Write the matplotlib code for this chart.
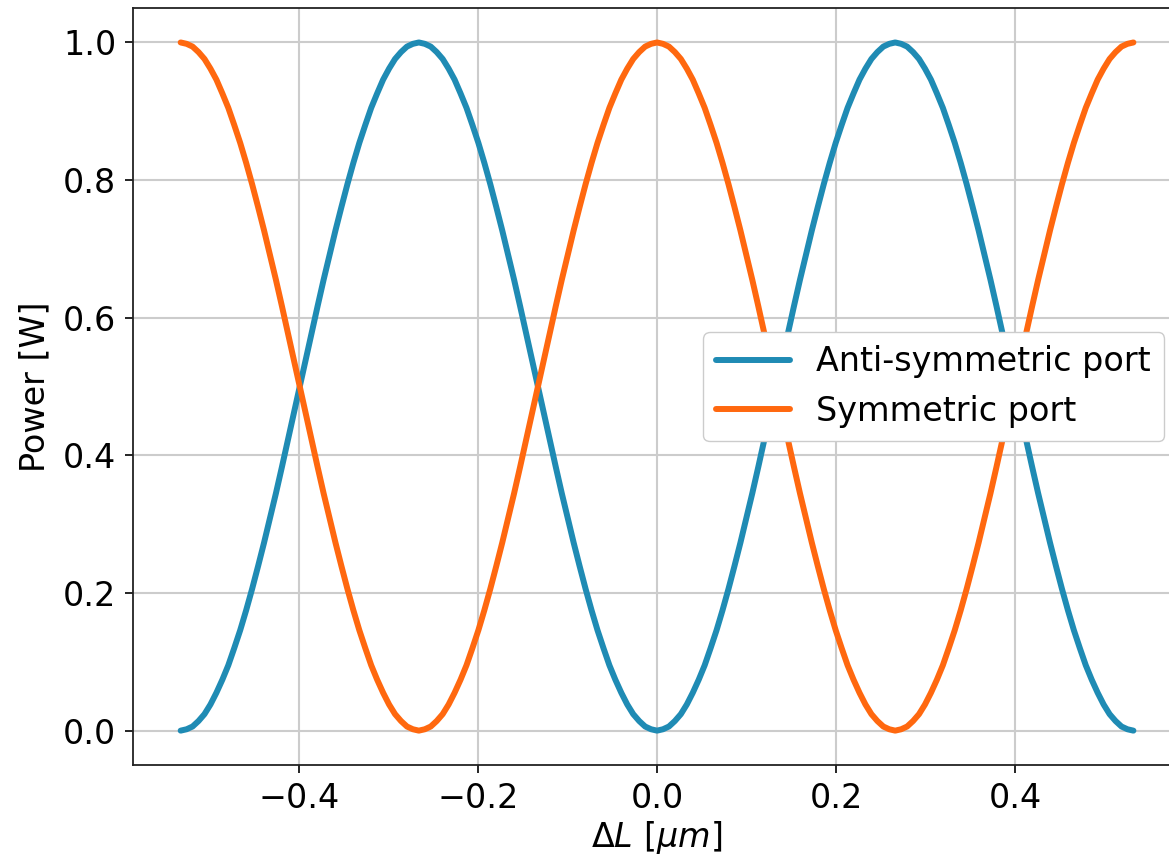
import matplotlib
matplotlib.use("Agg")
import matplotlib.pyplot as plt

# Path-length difference [um] (lambda/160 steps)
delta_l = [-0.532, -0.52535, -0.5187, -0.51205, -0.5054, -0.49875, -0.4921, -0.48545, -0.4788, -0.47215,
           -0.4655, -0.45885, -0.4522, -0.44555, -0.4389, -0.43225, -0.4256, -0.41895, -0.4123, -0.40565,
           -0.399, -0.39235, -0.3857, -0.37905, -0.3724, -0.36575, -0.3591, -0.35245, -0.3458, -0.33915,
           -0.3325, -0.32585, -0.3192, -0.31255, -0.3059, -0.29925, -0.2926, -0.28595, -0.2793, -0.27265,
           -0.266, -0.25935, -0.2527, -0.24605, -0.2394, -0.23275, -0.2261, -0.21945, -0.2128, -0.20615,
           -0.1995, -0.19285, -0.1862, -0.17955, -0.1729, -0.16625, -0.1596, -0.15295, -0.1463, -0.13965,
           -0.133, -0.12635, -0.1197, -0.11305, -0.1064, -0.09975, -0.0931, -0.08645, -0.0798, -0.07315,
           -0.0665, -0.05985, -0.0532, -0.04655, -0.0399, -0.03325, -0.0266, -0.01995, -0.0133, -0.00665,
           0.0,
           0.00665, 0.0133, 0.01995, 0.0266, 0.03325, 0.0399, 0.04655, 0.0532, 0.05985, 0.0665,
           0.07315, 0.0798, 0.08645, 0.0931, 0.09975, 0.1064, 0.11305, 0.1197, 0.12635, 0.133,
           0.13965, 0.1463, 0.15295, 0.1596, 0.16625, 0.1729, 0.17955, 0.1862, 0.19285, 0.1995,
           0.20615, 0.2128, 0.21945, 0.2261, 0.23275, 0.2394, 0.24605, 0.2527, 0.25935, 0.266,
           0.27265, 0.2793, 0.28595, 0.2926, 0.29925, 0.3059, 0.31255, 0.3192, 0.32585, 0.3325,
           0.33915, 0.3458, 0.35245, 0.3591, 0.36575, 0.3724, 0.37905, 0.3857, 0.39235, 0.399,
           0.40565, 0.4123, 0.41895, 0.4256, 0.43225, 0.4389, 0.44555, 0.4522, 0.45885, 0.4655,
           0.47215, 0.4788, 0.48545, 0.4921, 0.49875, 0.5054, 0.51205, 0.5187, 0.52535, 0.532]

# Power at the anti-symmetric port [W]
p_anti = [0.0, 0.002, 0.006, 0.014, 0.024, 0.038, 0.055, 0.074, 0.095, 0.120,
          0.146, 0.175, 0.206, 0.239, 0.273, 0.309, 0.345, 0.383, 0.422, 0.461,
          0.5, 0.539, 0.578, 0.617, 0.655, 0.691, 0.727, 0.761, 0.794, 0.825,
          0.854, 0.880, 0.905, 0.926, 0.946, 0.962, 0.976, 0.986, 0.994, 0.998,
          1.0, 0.998, 0.994, 0.986, 0.976, 0.962, 0.946, 0.926, 0.905, 0.880,
          0.854, 0.825, 0.794, 0.761, 0.727, 0.691, 0.655, 0.617, 0.578, 0.539,
          0.5, 0.461, 0.422, 0.383, 0.345, 0.309, 0.273, 0.239, 0.206, 0.175,
          0.146, 0.120, 0.095, 0.074, 0.055, 0.038, 0.024, 0.014, 0.006, 0.002,
          0.0,
          0.002, 0.006, 0.014, 0.024, 0.038, 0.055, 0.074, 0.095, 0.120, 0.146,
          0.175, 0.206, 0.239, 0.273, 0.309, 0.345, 0.383, 0.422, 0.461, 0.5,
          0.539, 0.578, 0.617, 0.655, 0.691, 0.727, 0.761, 0.794, 0.825, 0.854,
          0.880, 0.905, 0.926, 0.946, 0.962, 0.976, 0.986, 0.994, 0.998, 1.0,
          0.998, 0.994, 0.986, 0.976, 0.962, 0.946, 0.926, 0.905, 0.880, 0.854,
          0.825, 0.794, 0.761, 0.727, 0.691, 0.655, 0.617, 0.578, 0.539, 0.5,
          0.461, 0.422, 0.383, 0.345, 0.309, 0.273, 0.239, 0.206, 0.175, 0.146,
          0.120, 0.095, 0.074, 0.055, 0.038, 0.024, 0.014, 0.006, 0.002, 0.0]

# Power at the symmetric port [W]
p_sym = [1.0, 0.998, 0.994, 0.986, 0.976, 0.962, 0.946, 0.926, 0.905, 0.880,
         0.854, 0.825, 0.794, 0.761, 0.727, 0.691, 0.655, 0.617, 0.578, 0.539,
         0.5, 0.461, 0.422, 0.383, 0.345, 0.309, 0.273, 0.239, 0.206, 0.175,
         0.146, 0.120, 0.095, 0.074, 0.055, 0.038, 0.024, 0.014, 0.006, 0.002,
         0.0, 0.002, 0.006, 0.014, 0.024, 0.038, 0.055, 0.074, 0.095, 0.120,
         0.146, 0.175, 0.206, 0.239, 0.273, 0.309, 0.345, 0.383, 0.422, 0.461,
         0.5, 0.539, 0.578, 0.617, 0.655, 0.691, 0.727, 0.761, 0.794, 0.825,
         0.854, 0.880, 0.905, 0.926, 0.946, 0.962, 0.976, 0.986, 0.994, 0.998,
         1.0,
         0.998, 0.994, 0.986, 0.976, 0.962, 0.946, 0.926, 0.905, 0.880, 0.854,
         0.825, 0.794, 0.761, 0.727, 0.691, 0.655, 0.617, 0.578, 0.539, 0.5,
         0.461, 0.422, 0.383, 0.345, 0.309, 0.273, 0.239, 0.206, 0.175, 0.146,
         0.120, 0.095, 0.074, 0.055, 0.038, 0.024, 0.014, 0.006, 0.002, 0.0,
         0.002, 0.006, 0.014, 0.024, 0.038, 0.055, 0.074, 0.095, 0.120, 0.146,
         0.175, 0.206, 0.239, 0.273, 0.309, 0.345, 0.383, 0.422, 0.461, 0.5,
         0.539, 0.578, 0.617, 0.655, 0.691, 0.727, 0.761, 0.794, 0.825, 0.854,
         0.880, 0.905, 0.926, 0.946, 0.962, 0.976, 0.986, 0.994, 0.998, 1.0]

fig = plt.figure(figsize=(11.69, 8.57), dpi=100)
# axes run past the right edge of the picture, like in the screenshot
ax = fig.add_axes([0.1138, 0.1073, 0.8965, 0.8833])

line_kw = dict(lw=4.3, solid_joinstyle='round', solid_capstyle='round')
ax.plot(delta_l, p_anti, color='#1f8bb4', label='Anti-symmetric port', **line_kw)
ax.plot(delta_l, p_sym, color='#ff680f', label='Symmetric port', **line_kw)

ax.set_xticks([-0.4, -0.2, 0.0, 0.2, 0.4])
ax.set_yticks([0.0, 0.2, 0.4, 0.6, 0.8, 1.0])
ax.tick_params(axis='both', labelsize=24, length=6, width=1.2, pad=6)
ax.grid(color='#cccccc', lw=1.5)
for sp in ax.spines.values():
    sp.set_linewidth(1.3)
    sp.set_color('#222222')

ax.set_ylabel('Power [W]', fontsize=24, labelpad=8)
ax.set_xlabel(r'$\Delta L\ [\mu m]$', fontsize=24, labelpad=3)
ax.legend(loc='center right', fontsize=24, handlelength=2.2, framealpha=1)

fig.savefig('out.png', dpi=100)
